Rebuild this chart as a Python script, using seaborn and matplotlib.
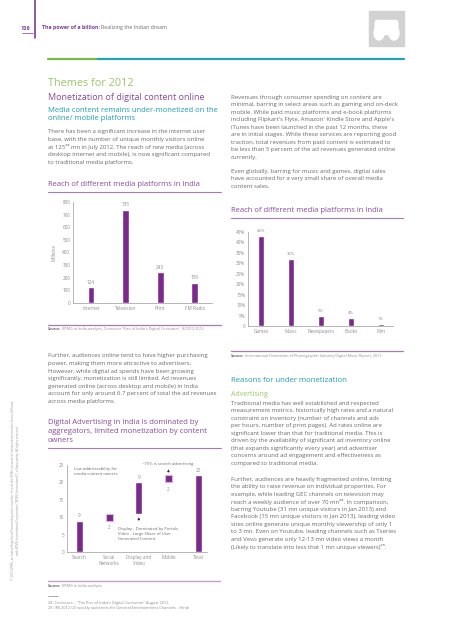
import matplotlib
matplotlib.use("Agg")
import matplotlib.pyplot as plt
import seaborn as sns
import pandas as pd
import numpy as np
from matplotlib.lines import Line2D
from matplotlib.patches import Rectangle, FancyBboxPatch, Circle

# ---------------- data ----------------
media_platforms = ["Internet", "Television", "Print", "FM Radio"]
media_reach_mn = [124, 735, 243, 159]

digital_categories = ["Games", "Music", "Newspapers", "Books", "Film"]
digital_share_pct = [43, 32, 5, 4, 1]

ad_categories = ["Search", "Social\nNetworks", "Display and\nVideo", "Mobile", "Total"]
ad_values = [9, 2, 9, 2, 22]
ad_bases = [0, 9, 11, 20, 0]

# ---------------- style ----------------
sns.set_theme(style="white")
plt.rcParams["font.family"] = ["Open Sans", "DejaVu Sans"]

W, H = 453, 640
fig = plt.figure(figsize=(W / 100, H / 100), dpi=100)
fig.patch.set_facecolor("white")
renderer = fig.canvas.get_renderer()

PURPLE_BAR = "#7b2a8b"
PURPLE_TXT = "#8a4a9c"
PURPLE_LINE = "#a27cb2"
TEAL = "#1f9db2"
GREEN = "#9cc56a"
GREY = "#6a6a6a"
LGREY = "#8c8c8c"


def fx(x):
    return x / W


def fy(y):
    return 1 - y / H


def txt(x, y, s, size=4.3, color=GREY, **kw):
    kw.setdefault("va", "center")
    kw.setdefault("ha", "left")
    return fig.text(fx(x), fy(y), s, fontsize=size, color=color, **kw)


def txt_pair(x, y, s1, s2, size, c1, c2, w1="bold", gap=0.8):
    t = txt(x, y, s1, size=size, color=c1, weight=w1)
    bb = t.get_window_extent(renderer=renderer)
    txt(bb.x1 + gap, y, s2, size=size, color=c2)


def para(x, y0, lines, step=7.55, size=4.3, color=GREY):
    for i, l in enumerate(lines):
        txt(x, y0 + i * step, l, size=size, color=color)


def hline(x0, x1, y, color=PURPLE_LINE, lw=0.8):
    fig.add_artist(Line2D([fx(x0), fx(x1)], [fy(y), fy(y)], color=color, lw=lw,
                          transform=fig.transFigure))


# ---------------- header ----------------
fig.add_artist(Line2D([fx(35), fx(35)], [fy(0), fy(38)], color="#7b3f98", lw=1.2,
                      transform=fig.transFigure))
txt(21, 28, "106", size=4.0, color="#7b3f98", weight="bold")
hline(22, 33, 33, color="#7b3f98", lw=0.5)
txt_pair(42, 28, "The power of a billion:", "Realizing the Indian dream", 3.8,
         "#7b3f98", GREY, gap=1.2)

# icon
fig.add_artist(Rectangle((fx(369), fy(46)), fx(35), 35 / H, color="#d2d2d2",
                         transform=fig.transFigure))
fig.add_artist(FancyBboxPatch((fx(377), fy(32)), fx(19), 9 / H,
                              boxstyle="round,pad=0.004", color="white",
                              transform=fig.transFigure))
for cx in (379, 394):
    fig.add_artist(Circle((fx(cx), fy(33)), 0.011, color="white",
                          transform=fig.transFigure))

# colour bar
hline(48, 98, 59, color="#7ab648", lw=1.6)
hline(98, 404, 59, color="#1aa7b8", lw=1.6)

# ---------------- left column text ----------------
txt(48, 83, "Themes for 2012", size=7.8, color=GREEN)
txt(48, 98, "Monetization of digital content online", size=6.5, color=PURPLE_TXT)
txt(48, 110, "Media content remains under-monetized on the", size=5.5, color=TEAL)
txt(48, 119, "online/ mobile platforms", size=5.5, color=TEAL)
para(48, 132, [
    "There has been a significant increase in the internet user",
    "base, with the number of unique monthly visitors online",
    "at 125²⁸ mn in July 2012. The reach of new media (across",
    "desktop internet and mobile), is now significant compared",
    "to traditional media platforms.",
])
txt(48, 184, "Reach of different media platforms in India", size=5.5, color=PURPLE_TXT)
hline(48, 221, 192)

# chart 1
ax1 = fig.add_axes([fx(73), fy(303), fx(212 - 73), (303 - 202) / H])
df1 = pd.DataFrame({"platform": media_platforms, "reach": media_reach_mn})
sns.barplot(data=df1, x="platform", y="reach", color=PURPLE_BAR, width=0.2,
            saturation=1, ax=ax1)
ax1.set_ylim(0, 800)
ax1.set_xlim(-0.52, 3.5)
ax1.set_yticks(range(0, 801, 100))
ax1.set_xlabel("")
ax1.set_ylabel("Millions", fontsize=3.4, color=LGREY, labelpad=4)
for c in ax1.containers:
    ax1.bar_label(c, fmt="%d", fontsize=3.3, color=LGREY, padding=2)

hline(48, 221, 325, color=PURPLE_LINE, lw=0.9)
txt_pair(48, 329, "Source:",
         "KPMG in India analysis, Comscore 'Rise of India's Digital Consumer', 8/2012 2012",
         2.7, GREY, LGREY)

para(48, 356, [
    "Further, audiences online tend to have higher purchasing",
    "power, making them more attractive to advertisers.",
    "However, while digital ad spends have been growing",
    "significantly, monetization is still limited. Ad revenues",
    "generated online (across desktop and mobile) in India",
    "account for only around 6.7 percent of total the ad revenues",
    "across media platforms.",
])
para(48, 422, [
    "Digital Advertising in India is dominated by",
    "aggregators, limited monetization by content",
    "owners",
], step=9.2, size=5.5, color=PURPLE_TXT)
hline(48, 221, 448)

# chart 3 (waterfall)
ax3 = fig.add_axes([fx(67), fy(552), fx(207 - 67), (552 - 465) / H])
df3 = pd.DataFrame({"cat": ad_categories, "val": ad_values})
sns.barplot(data=df3, x="cat", y="val", color=PURPLE_BAR, width=0.24,
            saturation=1, bottom=ad_bases, ax=ax3)
ax3.set_ylim(0, 25)
ax3.set_xlim(-0.42, 4.3)
ax3.set_yticks(range(0, 26, 5))
ax3.set_xlabel("")
ax3.set_ylabel("")
bars = ax3.patches
for i, p in enumerate(bars):
    if ad_categories[i] in ("Social\nNetworks", "Mobile"):
        p.set_edgecolor("#d7b6dd")
        p.set_linewidth(0.8)
for i, (v, b) in enumerate(zip(ad_values, ad_bases)):
    if ad_categories[i] in ("Social\nNetworks", "Mobile"):
        ax3.text(i, b - 1.2, str(v), ha="center", va="top", fontsize=3.3, color=LGREY)
    else:
        ax3.text(i, b + v + 0.8, str(v), ha="center", va="bottom", fontsize=3.3, color=LGREY)
ax3.text(-0.18, 24.5, "Low addressability for\nmedia content owners", fontsize=3.0,
         color=GREY, va="top", ha="left", linespacing=1.4)
ax3.text(2.1, 25.4, "~75% is search advertising", fontsize=3.0, color=GREY,
         va="center", ha="left")
ax3.annotate("", xy=(3, 24.6), xytext=(3, 22.2),
             arrowprops=dict(arrowstyle="-|>", color="#333", lw=0.6, mutation_scale=3))
ax3.annotate("", xy=(2, 10.8), xytext=(2, 8.4),
             arrowprops=dict(arrowstyle="-|>", color="#333", lw=0.6, mutation_scale=3))
ax3.text(1.3, 7.3, "Display - Dominated by Portals\nVideo - Large Share of User\nGenerated Content",
         fontsize=3.0, color=GREY, va="top", ha="left", linespacing=1.4)

hline(48, 220, 581, color="#c99ad2", lw=1.0)
txt_pair(48, 586, "Source:", "KPMG in India analysis", 2.7, GREY, LGREY)
hline(48, 58, 596, color=GREY, lw=0.4)
txt(48, 603, "28. Comscore – \"The Rise of India's Digital Consumer\" August 2012", size=2.8, color=LGREY)
txt(48, 608, "29. IRS 2012 Q3 weekly audiences for General Entertainment Channels - Hindi",
    size=2.8, color=LGREY)

# vertical copyright text
fig.text(fx(13), fy(490), "© 2013 KPMG, an Indian Registered Partnership and a member firm of the KPMG network of independent member firms affiliated",
         rotation=90, fontsize=2.2, color="#9a9a9a", ha="center", va="center")
fig.text(fx(18), fy(490), "with KPMG International Cooperative (\"KPMG International\"), a Swiss entity. All rights reserved.",
         rotation=90, fontsize=2.2, color="#9a9a9a", ha="center", va="center")

# ---------------- right column ----------------
para(231, 97, [
    "Revenues through consumer spending on content are",
    "minimal, barring in select areas such as gaming and on-deck",
    "mobile. While paid music platforms and e-book platforms",
    "including Flipkart's Flyte, Amazon' Kindle Store and Apple's",
    "iTunes have been launched in the past 12 months, these",
    "are in initial stages. While these services are reporting good",
    "traction, total revenues from paid content is estimated to",
    "be less than 5 percent of the ad revenues generated online",
    "currently.",
])
para(231, 171, [
    "Even globally, barring for music and games, digital sales",
    "have accounted for a very small share of overall media",
    "content sales.",
])
txt(231, 210, "Reach of different media platforms in India", size=5.5, color=PURPLE_TXT)
hline(231, 403, 218)

# chart 2
ax2 = fig.add_axes([fx(248), fy(326), fx(393 - 248), (326 - 232) / H])
df2 = pd.DataFrame({"cat": digital_categories, "share": digital_share_pct})
sns.barplot(data=df2, x="cat", y="share", color=PURPLE_BAR, width=0.22,
            saturation=1, ax=ax2)
ax2.set_ylim(0, 45)
ax2.set_xlim(-0.43, 4.4)
ax2.set_yticks(range(0, 46, 5))
ax2.set_yticklabels(["0"] + [f"{v}%" for v in range(5, 46, 5)])
ax2.set_xlabel("")
ax2.set_ylabel("")
for c in ax2.containers:
    ax2.bar_label(c, fmt="%d%%", fontsize=3.1, color=LGREY, padding=2)

hline(231, 403, 351, color=PURPLE_LINE, lw=0.9)
txt_pair(231, 356, "Source:",
         "International Federation of Phonographic Industry Digital Music Report, 2013",
         2.7, GREY, LGREY)

txt(231, 381, "Reasons for under monetization", size=5.6, color=TEAL)
txt(231, 394, "Advertising", size=5.0, color=GREEN)
para(231, 403, [
    "Traditional media has well established and respected",
    "measurement metrics, historically high rates and a natural",
    "constraint on inventory (number of channels and ads",
    "per hours, number of print pages). Ad rates online are",
    "significant lower than that for traditional media. This is",
    "driven by the availability of significant ad inventory online",
    "(that expands significantly every year) and advertiser",
    "concerns around ad engagement and effectiveness as",
    "compared to traditional media.",
])
para(231, 479, [
    "Further, audiences are heavily fragmented online, limiting",
    "the ability to raise revenue on individual properties. For",
    "example, while leading GEC channels on television may",
    "reach a weekly audience of over 70 mn²⁸. In comparison,",
    "barring Youtube (31 mn unique visitors in Jan 2013) and",
    "Facebook (15 mn unique visitors in Jan 2013), leading video",
    "sites online generate unique monthly viewership of only 1",
    "to 3 mn. Even on Youtube, leading channels such as Tseries",
    "and Vevo generate only 12-13 mn video views a month",
    "(Likely to translate into less that 1 mn unique viewers)²⁹.",
])

# common axis styling
for ax in (ax1, ax2, ax3):
    ax.set_facecolor("white")
    sns.despine(ax=ax)
    for s in ("left", "bottom"):
        ax.spines[s].set_color("#9a9a9a")
        ax.spines[s].set_linewidth(0.5)
    ax.tick_params(axis="both", length=0, labelsize=3.3, colors=LGREY, pad=2)
    for t in ax.get_xticklabels():
        t.set_linespacing(1.3)

fig.savefig("out.png", dpi=100, facecolor="white")
